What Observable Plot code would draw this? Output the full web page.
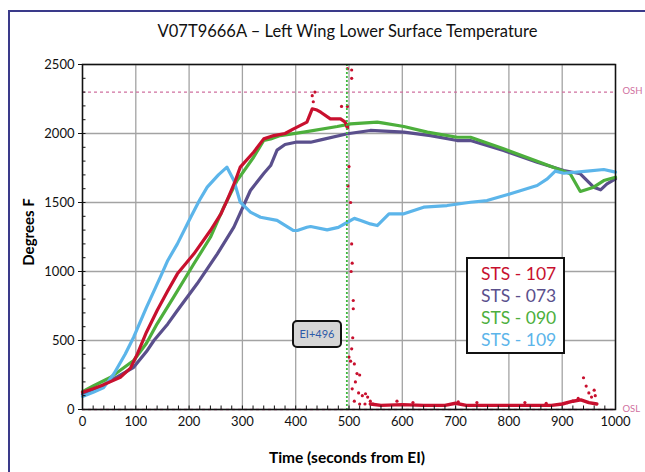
<!DOCTYPE html>
<html><head><meta charset="utf-8">
<script src="https://cdn.jsdelivr.net/npm/d3@7"></script>
<script src="https://cdn.jsdelivr.net/npm/@observablehq/plot@0.6"></script>
<style>
html,body{margin:0;background:#fff;font-family:Lato,"Open Sans",sans-serif;overflow:hidden;}
#wrap{position:relative;width:645px;height:472px;overflow:hidden;}
#frame{position:absolute;left:8px;top:10px;width:637px;height:462px;border-left:2px solid #3a3a8a;border-top:2px solid #3a3a8a;box-sizing:border-box;}
#title{position:absolute;left:0;width:695px;top:21px;text-align:center;font-size:16.5px;color:#111;}
#ylab{position:absolute;left:28px;top:232px;transform:translate(-50%,-50%) rotate(-90deg);font-weight:bold;font-size:15px;white-space:nowrap;}
#xlab{position:absolute;left:347px;top:457px;transform:translate(-50%,-50%);font-weight:bold;font-size:15.5px;white-space:nowrap;}
#ei{position:absolute;left:292px;top:320px;width:46px;height:24px;border:2px solid #111;border-radius:5px;background:#d6d6d6;color:#2d5aa8;font-size:11px;line-height:24px;text-align:center;box-sizing:content-box;}
#legend{position:absolute;left:466px;top:257px;width:99px;height:97px;border:2px solid #111;background:#fff;font-size:17.5px;line-height:22px;padding-top:4px;box-sizing:border-box;padding-left:13px;}
#chart{position:absolute;left:0;top:0;}
</style></head>
<body>
<div id="wrap">
<div id="frame"></div>
<div id="chart"></div>
<div id="title">V07T9666A – Left Wing Lower Surface Temperature</div>
<div id="ylab">Degrees F</div>
<div id="xlab">Time (seconds from EI)</div>
<div id="ei">EI+496</div>
<div id="legend"></div>
</div>
<script>
// ---- data ----
const seriesNames = ["STS - 107", "STS - 073", "STS - 090", "STS - 109"];
const seriesColors = ["#c8102e", "#5a4f8c", "#4daf3c", "#5cb5ea"];

const t107 = [0,20,40,71,90,103,120,140,160,178,209,240,260,271,285,296,321,340,359,380,396,421,431,440,447,465,484,493,497];
const v107 = [125,150,180,234,300,403,560,717,860,983,1128,1297,1420,1514,1640,1756,1864,1961,1985,2000,2034,2082,2179,2170,2154,2106,2106,2082,2040];
const t107late = [540,560,600,640,680,700,720,760,800,840,880,900,920,935,950,965];
const v107late = [40,30,35,30,30,45,30,30,30,30,30,40,60,70,50,40];
const t107pts = [431,433,436,486,497,505,505,497,497,500,498,503,505,506,504,508,508,507,505,500,503,510,515,520,512,506,518,525,531,535,540,510,520,530,545,910,920,930,940,945,950,955,960,962,590,620,705,740,830,870];
const v107pts = [2274,2230,2300,2196,2470,2460,2400,2196,2050,1760,1620,1500,1200,1060,1000,790,730,520,440,380,350,330,260,250,200,150,120,100,114,90,60,60,40,40,40,50,60,80,230,170,120,90,140,100,60,50,55,50,50,45];

const t073 = [0,20,53,96,120,134,160,178,215,253,284,315,340,353,365,380,400,428,447,497,540,603,653,703,728,790,853,903,934,959,972,984,1000];
const v073 = [110,135,210,306,420,500,620,717,911,1128,1321,1587,1710,1768,1880,1920,1937,1937,1954,1998,2022,2010,1985,1949,1949,1877,1792,1732,1708,1611,1592,1635,1671];

const t090 = [0,20,53,96,120,140,171,209,240,265,290,321,340,353,371,415,478,503,553,565,603,647,703,728,790,853,903,915,934,959,978,1000];
const v090 = [130,170,234,355,480,621,814,1056,1248,1466,1659,1828,1949,1961,1985,2010,2051,2070,2082,2075,2051,2010,1973,1973,1889,1799,1727,1708,1580,1611,1659,1683];

const t109 = [0,20,40,59,80,96,120,146,160,178,203,220,234,255,271,284,296,315,334,365,396,403,421,428,459,480,497,510,522,540,553,575,603,640,684,728,759,803,853,872,887,903,947,978,1000];
const v109 = [95,125,160,259,400,524,740,959,1080,1200,1393,1520,1611,1700,1756,1660,1502,1430,1393,1370,1297,1297,1321,1326,1302,1320,1357,1385,1370,1345,1333,1418,1418,1466,1478,1502,1514,1563,1623,1671,1727,1712,1727,1739,1720];

const xTicks = [0,100,200,300,400,500,600,700,800,900,1000];
const yTicks = [0,500,1000,1500,2000,2500];
const xMinor = d3.range(0, 1001, 20);
const yMinor = d3.range(0, 2501, 100);
const limits = [{v: 2300, label: "OSH"}, {v: 0, label: "OSL"}];
const eiTime = 496;

const zip = (ts, vs) => ts.map((t, i) => ({t, v: vs[i]}));

const chart = Plot.plot({
  width: 645, height: 472,
  marginTop: 64, marginBottom: 63, marginLeft: 82, marginRight: 30,
  x: {domain: [0, 1000]},
  y: {domain: [0, 2500]},
  style: {fontFamily: "Lato, 'Open Sans', sans-serif", fontSize: "13px", color: "#111", background: "transparent"},
  marks: [
    Plot.gridX(xTicks, {stroke: "#a3a3a3", strokeOpacity: 1, strokeWidth: 1.3}),
    Plot.gridY(yTicks, {stroke: "#a3a3a3", strokeOpacity: 1, strokeWidth: 1.3}),
    Plot.ruleY(limits, {y: "v", x1: 0, x2: 1000, stroke: "#d070a0", strokeWidth: 1.3, strokeDasharray: "3,3"}),
    Plot.line(zip(t073, v073), {x: "t", y: "v", stroke: seriesColors[1], strokeWidth: 3.2}),
    Plot.line(zip(t090, v090), {x: "t", y: "v", stroke: seriesColors[2], strokeWidth: 3.2}),
    Plot.line(zip(t109, v109), {x: "t", y: "v", stroke: seriesColors[3], strokeWidth: 3.2}),
    Plot.line(zip(t107, v107), {x: "t", y: "v", stroke: seriesColors[0], strokeWidth: 3.2}),
    Plot.line(zip(t107late, v107late), {x: "t", y: "v", stroke: seriesColors[0], strokeWidth: 3.4}),
    Plot.dot(zip(t107pts, v107pts), {x: "t", y: "v", fill: seriesColors[0], r: 1.6}),
    Plot.ruleX([eiTime], {stroke: "#3cb83c", strokeWidth: 1.8, strokeDasharray: "2,2"}),
    Plot.frame({stroke: "#111", strokeWidth: 1.5}),
    Plot.axisX(xTicks, {tickSize: 0, tickPadding: 7, label: null, fontSize: 13, tickFormat: d3.format("d")}),
    Plot.axisX(xMinor, {tickSize: -3.5, text: null, label: null}),
    Plot.axisY(yTicks, {tickSize: 4, tickPadding: 4, label: null, fontSize: 13, tickFormat: d3.format("d")}),
    Plot.axisY(yMinor, {tickSize: -3.5, text: null, label: null}),
    Plot.text(limits, {x: 1000, y: "v", text: "label", dx: 7, dy: -1, textAnchor: "start", fill: "#d070a0", fontSize: 9.5})
  ]
});
document.getElementById("chart").appendChild(chart);

const leg = document.getElementById("legend");
seriesNames.forEach((n, i) => {
  const d = document.createElement("div");
  d.textContent = n;
  d.style.color = seriesColors[i];
  leg.appendChild(d);
});
</script>
</body></html>
